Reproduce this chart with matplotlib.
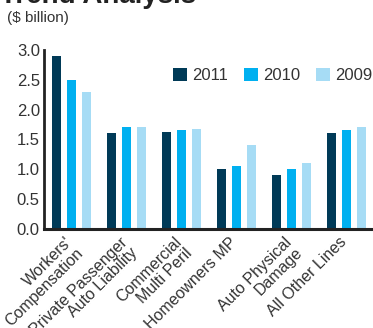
import matplotlib.pyplot as plt
import matplotlib.transforms as mtransforms
import numpy as np

categories = ["Workers'\nCompensation", "Private Passenger\nAuto Liability",
              "Commercial\nMulti Peril", "Homeowners MP",
              "Auto Physical\nDamage", "All Other Lines"]
years = ["2011", "2010", "2009"]
v2011 = [2.9, 1.6, 1.62, 1.0, 0.9, 1.6]
v2010 = [2.5, 1.7, 1.65, 1.05, 1.0, 1.65]
v2009 = [2.3, 1.7, 1.67, 1.4, 1.1, 1.7]
colors = ["#003a57", "#00b0f0", "#a6dcf5"]

plt.rcParams['font.family'] = ['Liberation Sans', 'DejaVu Sans']

fig = plt.figure(figsize=(3.73, 3.28), dpi=100)
ax = fig.add_axes([0.118, 0.302, 0.882, 0.546])

x = np.arange(len(categories))
step = 15 / 55
width = 9 / 55
for i, (vals, lab) in enumerate(zip([v2011, v2010, v2009], years)):
    ax.bar(x + (i - 1) * step, vals, width, color=colors[i], label=lab)

ax.set_xlim(-0.5, 5.49)
ax.set_ylim(0, 3.0)
yt = np.arange(0, 3.01, 0.5)
ax.set_yticks(yt)
ax.set_yticklabels([f"{t:.1f}" for t in yt], fontsize=12, color="#333333")
ax.tick_params(axis='y', length=0, pad=3)
ax.tick_params(axis='x', length=0, pad=4)
ax.set_xticks(x)
ax.set_xticklabels(categories, rotation=45, ha='right', va='top',
                   rotation_mode='anchor', multialignment='right',
                   fontsize=11.5, color="#333333", linespacing=1.0)
shift = mtransforms.ScaledTranslation(-7 / 100, 0, fig.dpi_scale_trans)
for lbl in ax.get_xticklabels():
    lbl.set_transform(lbl.get_transform() + shift)

for s in ['top', 'right']:
    ax.spines[s].set_visible(False)
ax.spines['left'].set_linewidth(2)
ax.spines['bottom'].set_linewidth(2.2)
ax.spines['left'].set_color("#222222")
ax.spines['bottom'].set_color("#222222")

ax.legend(loc='upper right', ncol=3, frameon=False, fontsize=12,
          handlelength=0.8, handleheight=0.8, handletextpad=0.35,
          columnspacing=0.95, bbox_to_anchor=(1.03, 0.955), labelcolor="#333333",
          borderaxespad=0.2)

fig.text(0.0, 0.992, "Trend Analysis", fontsize=20, fontweight='bold',
         va='baseline', color="#222222")
fig.text(0.02, 0.925, "($ billion)", fontsize=11, color="#333333", va='bottom')

fig.savefig("out.png", dpi=100)
